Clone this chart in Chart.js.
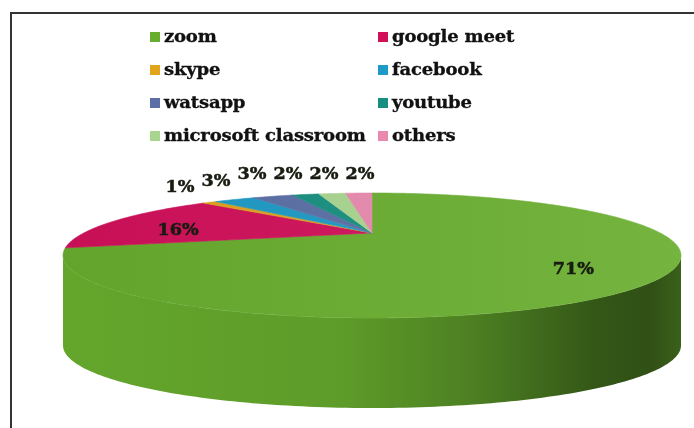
<!DOCTYPE html>
<html>
<head>
<meta charset="utf-8">
<script src="https://cdn.jsdelivr.net/npm/chart.js@4.4.1/dist/chart.umd.min.js"></script>
<style>
html,body{margin:0;padding:0;background:#fff;}
#wrap{position:relative;width:694px;height:428px;overflow:hidden;background:#fff;}
#frame{position:absolute;left:10px;top:12px;width:900px;height:600px;border-left:2px solid #333;border-top:2px solid #333;}
#pie{position:absolute;left:0;top:0;}
#legend{position:absolute;left:150px;top:20px;display:grid;grid-template-columns:228px 200px;grid-template-rows:repeat(4,33px);}
#legend .it{display:flex;align-items:center;white-space:nowrap;}
#legend .sw{width:10px;height:10px;margin-right:4px;flex:none;}
#legend .tx{font:bold 16px "DejaVu Serif",serif;color:#111;-webkit-text-stroke:0.3px #111;display:inline-block;transform:scaleX(1.13);transform-origin:left center;letter-spacing:-0.2px;}
</style>
</head>
<body>
<div id="wrap">
  <div id="frame"></div>
  <canvas id="pie" width="694" height="428"></canvas>
  <div id="legend"></div>
</div>
<script>
/* data */
const categories=["zoom","google meet","skype","facebook","watsapp","youtube","microsoft classroom","others"];
const shares=[71,16,1,3,3,2,2,2];
const sliceColors=["#68ad2e","#d1105a","#e2a41b","#1d9bc6","#5b6fa6","#168f80","#a9d68f","#e88aae"];

/* legend, two columns like the original */
const leg=document.getElementById("legend");
categories.forEach((c,i)=>{
  const it=document.createElement("div");it.className="it";
  const sw=document.createElement("span");sw.className="sw";sw.style.background=sliceColors[i];
  const tx=document.createElement("span");tx.className="tx";tx.textContent=c;
  it.appendChild(sw);it.appendChild(tx);leg.appendChild(it);
});

/* 3d look: perspective tilt + side depth */
const K=0.36, DEPTH=90;

function geom(chart){
  const a=chart.chartArea;
  const topH=(a.bottom-a.top)-DEPTH;
  const B=topH/(1/(1+K)+1/(1-K));
  const A=(a.right-a.left)/2*Math.sqrt(1-K*K);
  return {x0:(a.left+a.right)/2,y0:a.top+B/(1+K),A,B,left:a.left,right:a.right,top:a.top};
}
function proj(g,ang,r,dy){
  const u=r*Math.cos(ang),v=r*Math.sin(ang),w=1-K*v;
  return [g.x0+g.A*u/w,g.y0+g.B*v/w+(dy||0)];
}
function shade(hex,f){
  const n=parseInt(hex.slice(1),16);
  let r=(n>>16)&255,gg=(n>>8)&255,b=n&255;
  const m=c=>Math.max(0,Math.min(255,Math.round(f>1?c+(255-c)*(f-1):c*f)));
  return `rgb(${m(r)},${m(gg)},${m(b)})`;
}
function wideText(ctx,txt,x,y,sx){
  ctx.save();ctx.translate(x,y);ctx.scale(sx,1);ctx.strokeText(txt,0,0);ctx.fillText(txt,0,0);ctx.restore();
}

const pie3d={
  id:"pie3d",
  beforeDatasetsDraw(chart){
    const ctx=chart.ctx,g=geom(chart);
    const arcs=chart.getDatasetMeta(0).data;
    const f0=Math.asin(K),f1=Math.PI-Math.asin(K);
    // side walls (front part only)
    arcs.forEach((el,i)=>{
      const col=sliceColors[i];
      for(let n=-1;n<=1;n++){
        const lo=Math.max(el.startAngle,f0+2*Math.PI*n),hi=Math.min(el.endAngle,f1+2*Math.PI*n);
        if(hi<=lo)continue;
        const steps=Math.max(4,Math.ceil((hi-lo)*60));
        ctx.beginPath();
        for(let s=0;s<=steps;s++){const p=proj(g,lo+(hi-lo)*s/steps,1,0);s?ctx.lineTo(p[0],p[1]):ctx.moveTo(p[0],p[1]);}
        for(let s=steps;s>=0;s--){const p=proj(g,lo+(hi-lo)*s/steps,1,DEPTH);ctx.lineTo(p[0],p[1]);}
        ctx.closePath();
        const gr=ctx.createLinearGradient(g.left,0,g.right,0);
        gr.addColorStop(0,shade(col,0.96));
        gr.addColorStop(0.45,shade(col,0.9));
        gr.addColorStop(0.66,shade(col,0.74));
        gr.addColorStop(0.86,shade(col,0.5));
        gr.addColorStop(0.95,shade(col,0.46));
        gr.addColorStop(1,shade(col,0.56));
        ctx.fillStyle=gr;ctx.fill();
      }
    });
    // top faces
    arcs.forEach((el,i)=>{
      const col=sliceColors[i];
      const lo=el.startAngle,hi=el.endAngle;
      const steps=Math.max(4,Math.ceil((hi-lo)*60));
      ctx.beginPath();
      const c=proj(g,0,0,0);ctx.moveTo(c[0],c[1]);
      for(let s=0;s<=steps;s++){const p=proj(g,lo+(hi-lo)*s/steps,1,0);ctx.lineTo(p[0],p[1]);}
      ctx.closePath();
      const gr=ctx.createLinearGradient(g.left,0,g.right,0);
      gr.addColorStop(0,shade(col,0.95));
      gr.addColorStop(1,shade(col,1.08));
      ctx.fillStyle=gr;ctx.strokeStyle=gr;ctx.lineWidth=0.6;
      ctx.fill();ctx.stroke();
    });
    // data labels
    ctx.fillStyle="#181c10";ctx.strokeStyle="#181c10";ctx.lineWidth=0.5;
    ctx.textAlign="center";ctx.textBaseline="middle";
    ctx.font='bold 16px "DejaVu Serif", serif';
    const small=[];
    arcs.forEach((el,i)=>{
      if(shares[i]<5){small.push(i);return;}
      const mid=(el.startAngle+el.endAngle)/2;
      const p=proj(g,mid,0.74,7);
      wideText(ctx,shares[i]+"%",p[0],p[1],1.1);
    });
    // small slices: labels in a row above the pie
    small.forEach((idx,j)=>{
      const x=g.x0-12-(small.length-1-j)*36;
      const y=g.top-18+Math.max(0,g.x0-x-120)*0.18;
      wideText(ctx,shares[idx]+"%",x,y,1.1);
    });
    return false;
  }
};

new Chart(document.getElementById("pie"),{
  type:"pie",
  data:{labels:categories,datasets:[{data:shares,backgroundColor:sliceColors,borderWidth:0}]},
  options:{
    responsive:false,animation:false,
    layout:{padding:{left:63,top:193,right:13,bottom:20}},
    plugins:{legend:{display:false},tooltip:{enabled:false}}
  },
  plugins:[pie3d]
});
</script>
</body>
</html>
